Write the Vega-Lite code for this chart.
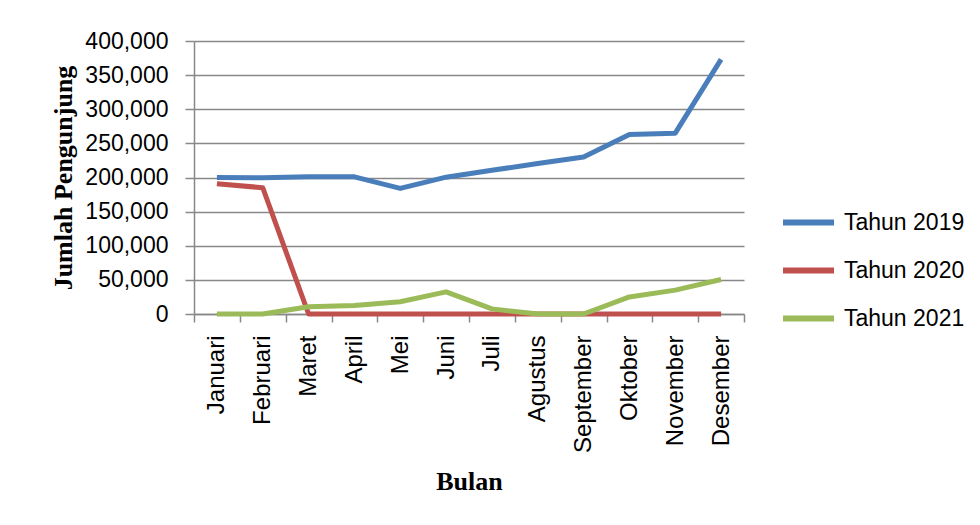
{
  "$schema": "https://vega.github.io/schema/vega-lite/v6.json",
  "autosize": "none",
  "width": 550,
  "height": 273,
  "padding": {"left": 194, "top": 41, "right": 236, "bottom": 211},
  "background": "white",
  "data": {
    "values": [
      {"bulan": "Januari", "tahun": "Tahun 2019", "jumlah": 200000},
      {"bulan": "Februari", "tahun": "Tahun 2019", "jumlah": 199500},
      {"bulan": "Maret", "tahun": "Tahun 2019", "jumlah": 201000},
      {"bulan": "April", "tahun": "Tahun 2019", "jumlah": 201000},
      {"bulan": "Mei", "tahun": "Tahun 2019", "jumlah": 184000},
      {"bulan": "Juni", "tahun": "Tahun 2019", "jumlah": 200500},
      {"bulan": "Juli", "tahun": "Tahun 2019", "jumlah": 210500},
      {"bulan": "Agustus", "tahun": "Tahun 2019", "jumlah": 220500},
      {"bulan": "September", "tahun": "Tahun 2019", "jumlah": 230000},
      {"bulan": "Oktober", "tahun": "Tahun 2019", "jumlah": 263000},
      {"bulan": "November", "tahun": "Tahun 2019", "jumlah": 265000},
      {"bulan": "Desember", "tahun": "Tahun 2019", "jumlah": 373000},
      {"bulan": "Januari", "tahun": "Tahun 2020", "jumlah": 191000},
      {"bulan": "Februari", "tahun": "Tahun 2020", "jumlah": 185000},
      {"bulan": "Maret", "tahun": "Tahun 2020", "jumlah": 0},
      {"bulan": "April", "tahun": "Tahun 2020", "jumlah": 0},
      {"bulan": "Mei", "tahun": "Tahun 2020", "jumlah": 0},
      {"bulan": "Juni", "tahun": "Tahun 2020", "jumlah": 0},
      {"bulan": "Juli", "tahun": "Tahun 2020", "jumlah": 0},
      {"bulan": "Agustus", "tahun": "Tahun 2020", "jumlah": 0},
      {"bulan": "September", "tahun": "Tahun 2020", "jumlah": 0},
      {"bulan": "Oktober", "tahun": "Tahun 2020", "jumlah": 0},
      {"bulan": "November", "tahun": "Tahun 2020", "jumlah": 0},
      {"bulan": "Desember", "tahun": "Tahun 2020", "jumlah": 0},
      {"bulan": "Januari", "tahun": "Tahun 2021", "jumlah": 0},
      {"bulan": "Februari", "tahun": "Tahun 2021", "jumlah": 0},
      {"bulan": "Maret", "tahun": "Tahun 2021", "jumlah": 10500},
      {"bulan": "April", "tahun": "Tahun 2021", "jumlah": 12500},
      {"bulan": "Mei", "tahun": "Tahun 2021", "jumlah": 18000},
      {"bulan": "Juni", "tahun": "Tahun 2021", "jumlah": 32500},
      {"bulan": "Juli", "tahun": "Tahun 2021", "jumlah": 7500},
      {"bulan": "Agustus", "tahun": "Tahun 2021", "jumlah": 0},
      {"bulan": "September", "tahun": "Tahun 2021", "jumlah": 0},
      {"bulan": "Oktober", "tahun": "Tahun 2021", "jumlah": 25000},
      {"bulan": "November", "tahun": "Tahun 2021", "jumlah": 35000},
      {"bulan": "Desember", "tahun": "Tahun 2021", "jumlah": 50500}
    ]
  },
  "mark": {"type": "line", "strokeWidth": 5, "strokeJoin": "round", "strokeCap": "butt"},
  "encoding": {
    "x": {
      "field": "bulan",
      "type": "ordinal",
      "sort": ["Januari", "Februari", "Maret", "April", "Mei", "Juni", "Juli", "Agustus", "September", "Oktober", "November", "Desember"],
      "scale": {"type": "band", "paddingInner": 0, "paddingOuter": 0},
      "bandPosition": 0.5,
      "title": "Bulan",
      "axis": {
        "tickBand": "extent",
        "grid": false,
        "labelAngle": -90,
        "labelAlign": "right",
        "labelBaseline": "middle",
        "labelFont": "Liberation Sans",
        "labelFontSize": 24,
        "labelColor": "#000000",
        "labelPadding": 13,
        "tickSize": 8,
        "tickColor": "#888888",
        "tickWidth": 1.5,
        "domainColor": "#888888",
        "domainWidth": 1.5,
        "titleFont": "Liberation Serif",
        "titleFontWeight": "bold",
        "titleFontSize": 26,
        "titleColor": "#000000",
        "titlePadding": 16
      }
    },
    "y": {
      "field": "jumlah",
      "type": "quantitative",
      "scale": {"domain": [0, 400000], "nice": false},
      "title": "Jumlah Pengunjung",
      "axis": {
        "values": [0, 50000, 100000, 150000, 200000, 250000, 300000, 350000, 400000],
        "format": ",d",
        "grid": true,
        "gridColor": "#888888",
        "gridWidth": 1.5,
        "labelFont": "Liberation Sans",
        "labelFontSize": 23,
        "labelColor": "#000000",
        "labelPadding": 17,
        "tickSize": 9,
        "tickColor": "#888888",
        "tickWidth": 1.5,
        "domainColor": "#888888",
        "domainWidth": 1.5,
        "titleFont": "Liberation Serif",
        "titleFontWeight": "bold",
        "titleFontSize": 26,
        "titleColor": "#000000",
        "titlePadding": 8
      }
    },
    "color": {
      "field": "tahun",
      "type": "nominal",
      "scale": {"domain": ["Tahun 2019", "Tahun 2020", "Tahun 2021"], "range": ["#4a7ebb", "#c0504d", "#9bbb59"]},
      "legend": {
        "title": null,
        "orient": "none",
        "legendX": 586,
        "legendY": 153,
        "symbolType": "stroke",
        "symbolSize": 2601,
        "symbolStrokeWidth": 6,
        "labelFont": "Liberation Sans",
        "labelFontSize": 23,
        "labelColor": "#000000",
        "labelOffset": 7,
        "rowPadding": 7
      }
    }
  },
  "config": {
    "view": {"stroke": null}
  }
}
